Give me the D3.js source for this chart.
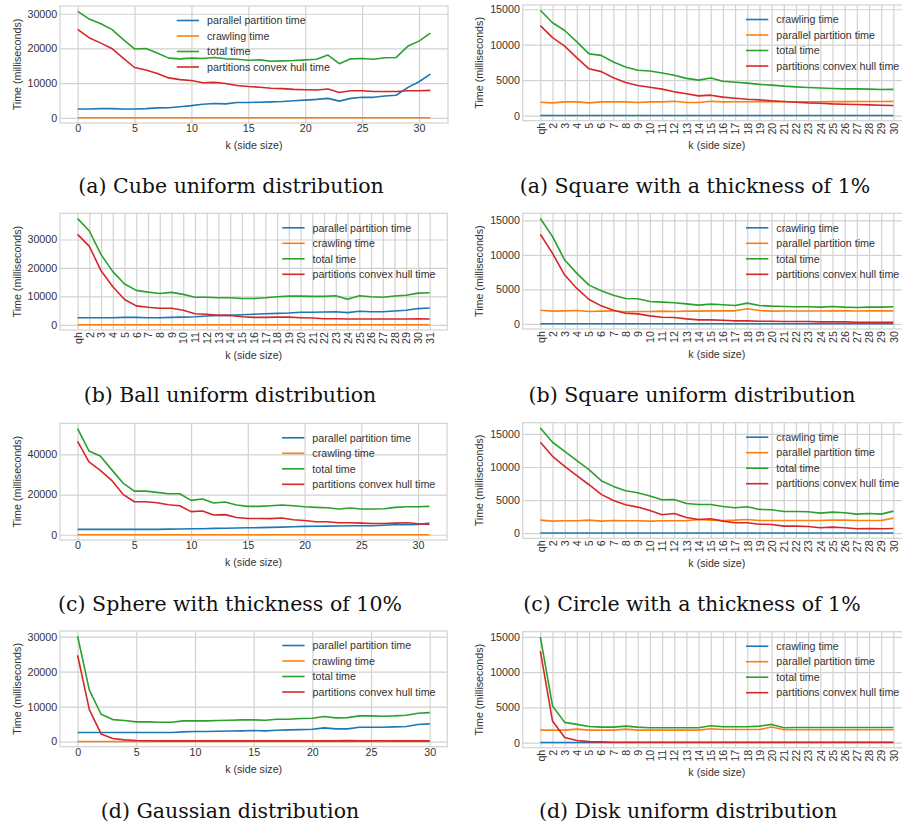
<!DOCTYPE html>
<html><head><meta charset="utf-8">
<script src="https://cdn.jsdelivr.net/npm/d3@7"></script>
<style>body{margin:0;background:#fff}</style>
</head><body><svg id="c" width="902" height="830"></svg>
<script>
// ---------- categories ----------
const k0to31 = [0,1,2,3,4,5,6,7,8,9,10,11,12,13,14,15,16,17,18,19,20,21,22,23,24,25,26,27,28,29,30,31];
const k0to30 = [0,1,2,3,4,5,6,7,8,9,10,11,12,13,14,15,16,17,18,19,20,21,22,23,24,25,26,27,28,29,30];
const qhTo30 = ["qh","2","3","4","5","6","7","8","9","10","11","12","13","14","15","16","17","18","19","20","21","22","23","24","25","26","27","28","29","30"];
const qhTo31 = ["qh","2","3","4","5","6","7","8","9","10","11","12","13","14","15","16","17","18","19","20","21","22","23","24","25","26","27","28","29","30","31"];

// ---------- tick labels ----------
const ticks30k = [0,10000,20000,30000];
const ticks15k = [0,5000,10000,15000];
const ticks40k = [0,20000,40000];
const xTicksNum = [0,5,10,15,20,25,30];

// ---------- series names ----------
const nParallel = "parallel partition time";
const nCrawling = "crawling time";
const nTotal = "total time";
const nHull = "partitions convex hull time";

// ---------- (a) Cube uniform distribution ----------
const cubeParallel = [2550,2550,2650,2650,2550,2550,2650,2850,2900,3200,3500,3900,4100,4000,4400,4400,4500,4600,4700,4900,5100,5300,5600,4800,5600,5900,5900,6300,6500,8700,10400,12600];
const cubeCrawling = [30,30,30,30,30,30,30,30,30,30,30,30,30,30,30,30,30,30,30,30,30,30,30,30,30,30,30,30,30,30,30,30];
const cubeTotal = [30700,28500,27200,25500,22600,19850,20000,18700,17200,17000,17200,17100,17400,17000,16900,16600,16700,16300,16400,16500,16700,16900,18100,15600,17000,17100,16900,17300,17400,20600,22100,24400];
const cubeHull = [25500,23100,21600,20000,17200,14500,13800,12800,11500,11000,10750,10100,10200,9900,9300,9000,8800,8500,8400,8200,8100,8000,8300,7300,7800,7800,7600,7600,7600,7800,7800,7900];

// ---------- (a) Square with a thickness of 1% ----------
const sq1Crawling = [20,20,20,20,20,20,20,20,20,20,20,20,20,20,20,20,20,20,20,20,20,20,20,20,20,20,20,20,20,20];
const sq1Parallel = [1890,1790,1930,1930,1790,1930,1930,1930,1840,1930,1930,2030,1840,1840,2030,1930,1950,1950,1950,1950,1950,1950,1960,1960,1970,1970,1980,1980,1990,2000];
const sq1Total = [14860,13100,12000,10400,8700,8500,7550,6850,6400,6300,6000,5700,5250,5000,5300,4850,4700,4580,4400,4300,4150,4050,3960,3900,3820,3770,3770,3730,3680,3700];
const sq1Hull = [12700,11000,9800,8150,6600,6200,5330,4670,4250,4000,3730,3350,3070,2780,2880,2600,2450,2310,2220,2080,1980,1890,1790,1750,1650,1600,1560,1510,1460,1420];

// ---------- (b) Ball uniform distribution ----------
const ballParallel = [2500,2500,2500,2500,2600,2600,2500,2500,2600,2700,2850,3100,3300,3300,3550,3700,3900,4000,4150,4400,4400,4500,4600,4270,4750,4600,4600,4850,5100,5700,5900];
const ballCrawling = [30,30,30,30,30,30,30,30,30,30,30,30,30,30,30,30,30,30,30,30,30,30,30,30,30,30,30,30,30,30,30];
const ballTotal = [37360,33000,24700,18700,14350,12100,11500,11030,11400,10700,9700,9700,9500,9500,9250,9250,9500,9850,10100,10100,10000,10000,10200,9000,10200,9850,9700,10100,10400,11150,11270];
const ballHull = [31800,27600,19000,13400,8900,6650,6170,5800,5800,5100,3900,3700,3300,3300,2850,2600,2600,2700,2700,2500,2370,2130,2130,2020,2020,2020,2020,2020,2020,2130,2020];

// ---------- (b) Square uniform distribution ----------
const squCrawling = [20,20,20,20,20,20,20,20,20,20,20,20,20,20,20,20,20,20,20,20,20,20,20,20,20,20,20,20,20,20];
const squParallel = [1980,1840,1890,1940,1790,1840,1890,1740,1790,1790,1840,1790,1840,1840,1890,1890,1890,2180,1940,1840,1860,1860,1860,1870,1880,1880,1870,1880,1880,1890];
const squTotal = [15250,12630,9240,7310,5610,4790,4160,3680,3630,3240,3150,3050,2900,2710,2860,2760,2660,3000,2660,2570,2520,2470,2470,2420,2520,2420,2370,2420,2420,2470];
const squHull = [12970,10210,7070,5130,3530,2610,1980,1550,1450,1160,970,920,730,580,580,530,440,440,390,390,340,340,340,290,290,290,240,240,240,240];

// ---------- (c) Sphere with thickness of 10% ----------
const sphParallel = [2700,2700,2700,2700,2700,2700,2700,2700,2800,2850,2950,3000,3150,3250,3350,3450,3550,3650,3800,3950,4150,4200,4300,4350,4500,4500,4500,4700,5000,5000,5100,5800];
const sphCrawling = [30,30,30,30,30,30,30,30,30,30,30,30,30,30,30,30,30,30,30,30,30,30,30,30,30,30,30,30,30,30,30,30];
const sphTotal = [52800,41700,39200,32400,25700,21700,21700,21100,20400,20400,17100,17800,15800,16300,14800,14100,14100,14400,14800,14400,13900,13600,13400,12800,13300,12800,12800,12900,13600,13900,13900,14100];
const sphHull = [46500,36200,32000,27100,20100,16400,16400,15900,14900,14400,11500,11800,9800,10000,8600,8100,8100,8000,8300,7500,7100,6500,6500,6000,6000,5800,5600,5600,5800,6000,5500,5100];

// ---------- (c) Circle with a thickness of 1% ----------
const cirCrawling = [20,20,20,20,20,20,20,20,20,20,20,20,20,20,20,20,20,20,20,20,20,20,20,20,20,20,20,20,20,20];
const cirParallel = [1970,1820,1870,1870,1970,1820,1920,1870,1870,1820,1870,1870,1870,2070,1970,1920,1970,2070,1920,1920,1920,1920,1920,1920,1970,1970,1920,1920,1920,2270];
const cirTotal = [15900,13740,12370,10960,9600,7930,7070,6410,6110,5610,5050,5100,4490,4340,4340,4040,3840,3990,3590,3530,3280,3280,3230,3030,3180,3080,2880,2980,2880,3330];
const cirHull = [13740,11620,10100,8690,7320,5860,4950,4290,3940,3430,2780,2980,2370,2070,2170,1820,1570,1570,1360,1310,1060,1060,1010,810,910,810,660,710,660,710];

// ---------- (d) Gaussian distribution ----------
const gauParallel = [2570,2570,2570,2570,2600,2570,2570,2570,2570,2760,2860,2860,2950,3000,3050,3140,3050,3240,3330,3420,3520,3900,3620,3620,4090,4090,4090,4190,4280,4860,5050];
const gauCrawling = [30,30,30,30,30,30,30,30,30,30,30,30,30,30,30,30,30,30,30,30,30,30,30,30,30,30,30,30,30,30,30];
const gauTotal = [30100,14700,7800,6280,6000,5620,5620,5520,5520,5900,5900,5900,6000,6090,6190,6190,6090,6380,6380,6570,6660,7140,6760,6850,7330,7330,7230,7330,7520,8090,8280];
const gauHull = [24660,9140,2190,860,480,290,220,200,190,190,190,190,190,190,190,190,190,190,190,190,190,190,200,260,200,190,210,190,190,190,190];

// ---------- (d) Disk uniform distribution ----------
const dskCrawling = [20,20,20,20,20,20,20,20,20,20,20,20,20,20,20,20,20,20,20,20,20,20,20,20,20,20,20,20,20,20];
const dskParallel = [1770,1770,1770,1910,1770,1770,1770,1910,1770,1770,1770,1770,1770,1770,1960,1860,1860,1860,1860,2200,1820,1820,1820,1820,1820,1820,1820,1820,1820,1820];
const dskTotal = [15000,5200,2870,2580,2290,2200,2200,2340,2200,2100,2100,2100,2100,2100,2390,2250,2250,2250,2340,2580,2100,2150,2150,2150,2150,2150,2150,2150,2150,2150];
const dskHull = [13000,3060,720,290,140,100,50,50,50,50,50,50,50,50,50,50,50,50,50,50,50,50,50,50,50,50,50,50,50,50];

// ---------- captions ----------
const captions = [
  "(a) Cube uniform distribution", "(a) Square with a thickness of 1%",
  "(b) Ball uniform distribution", "(b) Square uniform distribution",
  "(c) Sphere with thickness of 10%", "(c) Circle with a thickness of 1%",
  "(d) Gaussian distribution", "(d) Disk uniform distribution"
];

const colors = ["#1f77b4","#ff7f0e","#2ca02c","#d62728"];

const panels = [
  {x:k0to31, numeric:true, yTicks:ticks30k, series:[[nParallel,cubeParallel],[nCrawling,cubeCrawling],[nTotal,cubeTotal],[nHull,cubeHull]],
   rect:[60,448,6,123], legendX:176.7, cap:captions[0], capX:231, capY:193},
  {x:qhTo30, numeric:false, yTicks:ticks15k, series:[[nCrawling,sq1Crawling],[nParallel,sq1Parallel],[nTotal,sq1Total],[nHull,sq1Hull]],
   rect:[522.7,911,5,120.7], legendX:null, cap:captions[1], capX:695, capY:193},
  {x:qhTo31, numeric:false, yTicks:ticks30k, series:[[nParallel,ballParallel],[nCrawling,ballCrawling],[nTotal,ballTotal],[nHull,ballHull]],
   rect:[60,447.3,213.3,330], legendX:null, cap:captions[2], capX:230, capY:402},
  {x:qhTo30, numeric:false, yTicks:ticks15k, series:[[nCrawling,squCrawling],[nParallel,squParallel],[nTotal,squTotal],[nHull,squHull]],
   rect:[522.7,911,213.3,329], legendX:null, cap:captions[3], capX:692, capY:402},
  {x:k0to31, numeric:true, yTicks:ticks40k, series:[[nParallel,sphParallel],[nCrawling,sphCrawling],[nTotal,sphTotal],[nHull,sphHull]],
   rect:[60,447,423.3,540], legendX:null, cap:captions[4], capX:230, capY:611},
  {x:qhTo30, numeric:false, yTicks:ticks15k, series:[[nCrawling,cirCrawling],[nParallel,cirParallel],[nTotal,cirTotal],[nHull,cirHull]],
   rect:[522.7,911,422.7,538.3], legendX:null, cap:captions[5], capX:692, capY:611},
  {x:k0to30, numeric:true, yTicks:ticks30k, series:[[nParallel,gauParallel],[nCrawling,gauCrawling],[nTotal,gauTotal],[nHull,gauHull]],
   rect:[60,447.3,631,746.7], legendX:null, cap:captions[6], capX:230, capY:818},
  {x:qhTo30, numeric:false, yTicks:ticks15k, series:[[nCrawling,dskCrawling],[nParallel,dskParallel],[nTotal,dskTotal],[nHull,dskHull]],
   rect:[522.7,911,631.7,747.7], legendX:null, cap:captions[7], capX:688, capY:818}
];

const svg = d3.select("#c");
svg.append("rect").attr("width",902).attr("height",830).attr("fill","#fff");
const FS = 10.7, SANS = "'Liberation Sans', Arial, sans-serif", TXT = "#333", GRID = "#d2d2d2";

panels.forEach((p, pi) => {
  const [x0,x1,y0,y1] = p.rect;
  const g = svg.append("g");
  let xs, xTickVals;
  if (p.numeric) {
    const ext = d3.extent(p.x), m = (ext[1]-ext[0])*0.05;
    xs = d3.scaleLinear().domain([ext[0]-m, ext[1]+m]).range([x0,x1]);
    xTickVals = xTicksNum;
  } else {
    xs = d3.scalePoint().domain(p.x).range([x0,x1]).padding(0.05*(p.x.length-1));
    xTickVals = p.x;
  }
  const all = p.series.flatMap(s => s[1]);
  const lo = d3.min(all), hi = d3.max(all), mm = (hi-lo)*0.05;
  const ys = d3.scaleLinear().domain([lo-mm, hi+mm]).range([y1,y0]);

  // grid
  const gx = g.append("g").attr("transform",`translate(0,${y1})`)
    .call(d3.axisBottom(xs).tickValues(xTickVals).tickSize(-(y1-y0)).tickFormat(""));
  gx.select(".domain").remove();
  gx.selectAll("line").attr("stroke",GRID).attr("stroke-width",1.2);
  const gy = g.append("g").attr("transform",`translate(${x0},0)`)
    .call(d3.axisLeft(ys).tickValues(p.yTicks).tickSize(-(x1-x0)).tickFormat(""));
  gy.select(".domain").remove();
  gy.selectAll("line").attr("stroke",GRID).attr("stroke-width",1.2);
  // frame
  g.append("rect").attr("x",x0).attr("y",y0).attr("width",x1-x0).attr("height",y1-y0)
    .attr("fill","none").attr("stroke",GRID).attr("stroke-width",1.2);

  // y tick labels
  const ay = g.append("g").attr("transform",`translate(${x0},0)`)
    .call(d3.axisLeft(ys).tickValues(p.yTicks).tickSize(0).tickPadding(2.8).tickFormat(d3.format("d")));
  ay.select(".domain").remove();
  ay.selectAll("text").attr("font-family",SANS).attr("font-size",FS).attr("fill",TXT);

  // x tick labels
  const ax = g.append("g").attr("transform",`translate(0,${y1})`)
    .call(d3.axisBottom(xs).tickValues(xTickVals).tickSize(0).tickPadding(1.5));
  ax.select(".domain").remove();
  ax.selectAll("text").attr("font-family",SANS).attr("font-size",FS).attr("fill",TXT);
  if (!p.numeric) {
    ax.selectAll("text").attr("transform","rotate(-90)").attr("x",-2).attr("y",0)
      .attr("dy","0.35em").attr("text-anchor","end");
  }

  // axis labels
  g.append("text").attr("x",(x0+x1)/2)
    .attr("y", y1 + (p.numeric ? 26.1 : 28.5))
    .attr("text-anchor","middle").attr("font-family",SANS).attr("font-size",FS).attr("fill",TXT)
    .text("k (side size)");
  g.append("text").attr("transform",`translate(${x0-43},${(y0+y1)/2}) rotate(-90)`)
    .attr("text-anchor","middle").attr("dy","0.35em").attr("font-family",SANS).attr("font-size",FS).attr("fill",TXT)
    .text("Time (milliseconds)");

  // lines
  const line = d3.line().x((d,i) => xs(p.x[i])).y(d => ys(d));
  p.series.forEach((s, si) => {
    g.append("path").datum(s[1]).attr("d",line).attr("fill","none")
      .attr("stroke",colors[si]).attr("stroke-width",1.6).attr("stroke-linejoin","round");
  });

  // legend
  const lx = p.legendX !== null ? p.legendX : x1 - 165;
  p.series.forEach((s, si) => {
    const ly = y0 + 14.5 + si*15.5;
    g.append("line").attr("x1",lx).attr("x2",lx+22.3).attr("y1",ly).attr("y2",ly)
      .attr("stroke",colors[si]).attr("stroke-width",1.6);
    g.append("text").attr("x",lx+30.3).attr("y",ly).attr("dy","0.35em")
      .attr("font-family",SANS).attr("font-size",FS).attr("fill",TXT).text(s[0]);
  });

  // caption
  svg.append("text").attr("x",p.capX).attr("y",p.capY).attr("text-anchor","middle")
    .attr("font-family","'DejaVu Serif', serif").attr("font-size",20.5).attr("fill","#111")
    .text(p.cap);
});
</script>
</body></html>
